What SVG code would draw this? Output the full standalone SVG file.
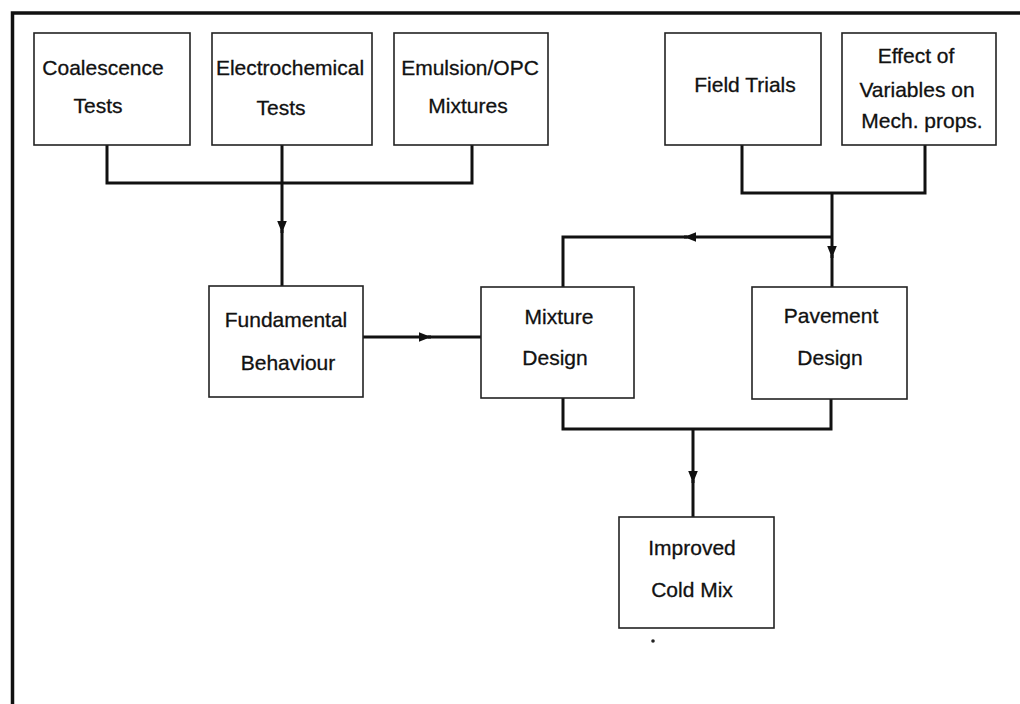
<svg xmlns="http://www.w3.org/2000/svg" width="1020" height="704" viewBox="0 0 1020 704">
<defs>
<style>
.box{fill:#fff;stroke:#222;stroke-width:1.6}
.t{font-family:"Liberation Sans",Arial,sans-serif;font-size:21px;fill:#111;text-anchor:middle;stroke:#111;stroke-width:0.3}
.c{fill:none;stroke:#111;stroke-width:3}
.frame{fill:none;stroke:#111;stroke-width:3.5}
</style>
<marker id="ah" viewBox="0 0 10 8" refX="10" refY="4" markerWidth="12" markerHeight="10" markerUnits="userSpaceOnUse" orient="auto">
<path d="M0,0 L10,4 L0,8 z" fill="#111"/>
</marker>
</defs>
<rect width="1020" height="704" fill="#fff"/>
<g id="frame">
<path class="frame" d="M1020 13 H12.5 V704"/>
</g>
<g id="connectors">
<path class="c" d="M107 145 V183 H472 V145"/>
<path class="c" d="M282 145 V183"/>
<path class="c" d="M282 183 V233" marker-end="url(#ah)"/>
<path class="c" d="M282 230 V286"/>
<path class="c" d="M832 193 V258" marker-end="url(#ah)"/>
<path class="c" d="M742 145 V193 H925 V145"/>
<path class="c" d="M832 255 V287"/>
<path class="c" d="M832 237 H684" marker-end="url(#ah)"/>
<path class="c" d="M687 237 H563 V287"/>
<path class="c" d="M363 337 H431" marker-end="url(#ah)"/>
<path class="c" d="M428 337 H481"/>
<path class="c" d="M563 398 V429 H831 V399"/>
<path class="c" d="M693 429 V483" marker-end="url(#ah)"/>
<path class="c" d="M693 480 V517"/>
</g>
<g id="coalescence">
<rect class="box" x="34" y="33" width="156" height="112"/>
<text class="t" x="103" y="75">Coalescence</text>
<text class="t" x="98" y="113">Tests</text>
</g>
<g id="electrochemical">
<rect class="box" x="212" y="33" width="160" height="112"/>
<text class="t" x="290" y="75">Electrochemical</text>
<text class="t" x="281" y="115">Tests</text>
</g>
<g id="emulsion">
<rect class="box" x="394" y="33" width="154" height="112"/>
<text class="t" x="470" y="75">Emulsion/OPC</text>
<text class="t" x="468" y="113">Mixtures</text>
</g>
<g id="field-trials">
<rect class="box" x="665" y="33" width="156" height="112"/>
<text class="t" x="745" y="92">Field Trials</text>
</g>
<g id="effect-variables">
<rect class="box" x="842" y="33" width="154" height="112"/>
<text class="t" x="916" y="63">Effect of</text>
<text class="t" x="917" y="97">Variables on</text>
<text class="t" x="922" y="128">Mech. props.</text>
</g>
<g id="fundamental">
<rect class="box" x="209" y="286" width="154" height="111"/>
<text class="t" x="286" y="327">Fundamental</text>
<text class="t" x="288" y="370">Behaviour</text>
</g>
<g id="mixture-design">
<rect class="box" x="481" y="287" width="153" height="111"/>
<text class="t" x="559" y="324">Mixture</text>
<text class="t" x="555" y="365">Design</text>
</g>
<g id="pavement-design">
<rect class="box" x="752" y="287" width="155" height="112"/>
<text class="t" x="831" y="323">Pavement</text>
<text class="t" x="830" y="365">Design</text>
</g>
<g id="improved-cold-mix">
<rect class="box" x="619" y="517" width="155" height="111"/>
<text class="t" x="692" y="555">Improved</text>
<text class="t" x="692" y="597">Cold Mix</text>
</g>
<circle cx="653" cy="641" r="1.8" fill="#222"/>
</svg>
